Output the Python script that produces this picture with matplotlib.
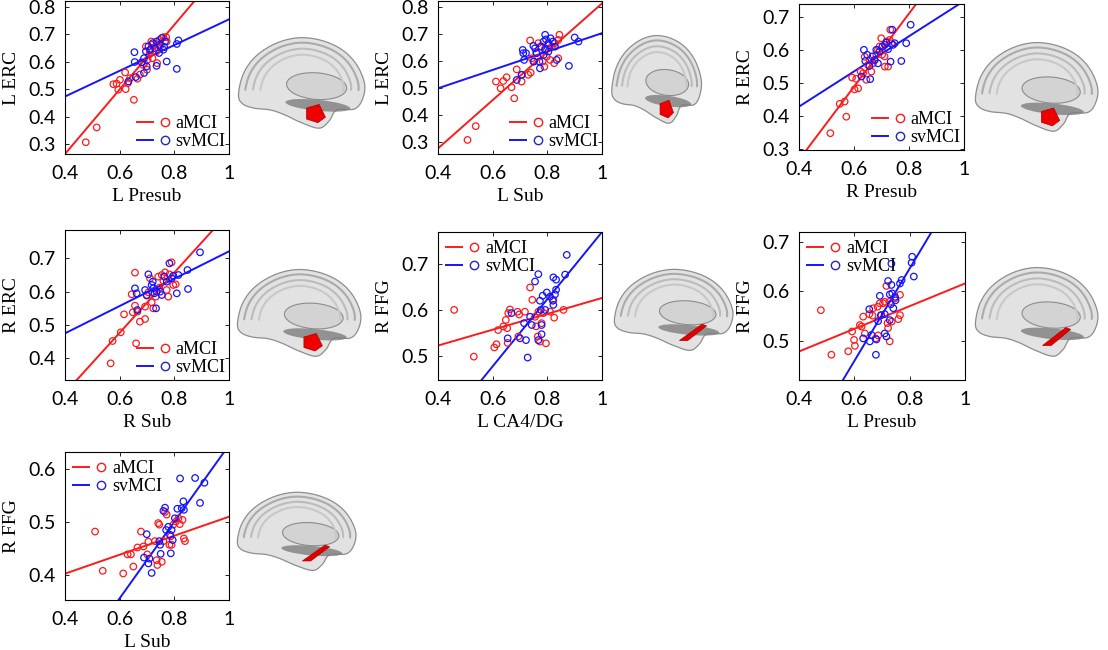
import numpy as np
import matplotlib
matplotlib.use("Agg")
import matplotlib.pyplot as plt
from matplotlib.lines import Line2D
from matplotlib.patches import Polygon, Ellipse
from matplotlib.legend_handler import HandlerTuple

# ---- data (x, y pairs per group) ----
p1_red_x = [0.476, 0.516, 0.577, 0.589, 0.601, 0.595, 0.620, 0.622, 0.630, 0.638, 0.652, 0.665, 0.674, 0.685, 0.690,
            0.696, 0.700, 0.702, 0.708, 0.711, 0.716, 0.718, 0.720, 0.735, 0.738, 0.740, 0.746, 0.750, 0.760, 0.737, 0.772, 0.770]
p1_red_y = [0.306, 0.360, 0.518, 0.520, 0.534, 0.498, 0.561, 0.500, 0.522, 0.540, 0.461, 0.538, 0.553, 0.589, 0.595,
            0.656, 0.571, 0.607, 0.626, 0.641, 0.674, 0.662, 0.613, 0.638, 0.668, 0.652, 0.680, 0.660, 0.690, 0.595, 0.674, 0.690]
p1_blue_x = [0.654, 0.655, 0.659, 0.632, 0.689, 0.680, 0.696, 0.705, 0.699, 0.689, 0.711, 0.721, 0.729, 0.735, 0.745,
             0.754, 0.760, 0.766, 0.735, 0.772, 0.763, 0.809, 0.815, 0.809, 0.744]
p1_blue_y = [0.635, 0.599, 0.544, 0.528, 0.613, 0.598, 0.638, 0.656, 0.583, 0.559, 0.644, 0.668, 0.650, 0.674, 0.662,
             0.687, 0.644, 0.674, 0.585, 0.601, 0.654, 0.574, 0.678, 0.665, 0.632]

p2_red_x = [0.508, 0.538, 0.612, 0.629, 0.639, 0.651, 0.669, 0.679, 0.688, 0.706, 0.706, 0.730, 0.739, 0.737, 0.743,
            0.749, 0.759, 0.767, 0.773, 0.783, 0.789, 0.792, 0.798, 0.804, 0.810, 0.816, 0.825, 0.828, 0.840, 0.844, 0.840]
p2_red_y = [0.309, 0.360, 0.525, 0.500, 0.527, 0.541, 0.504, 0.463, 0.570, 0.550, 0.525, 0.550, 0.558, 0.677, 0.611,
            0.599, 0.632, 0.667, 0.654, 0.599, 0.580, 0.648, 0.617, 0.660, 0.605, 0.654, 0.593, 0.667, 0.611, 0.698, 0.679]
p2_blue_x = [0.688, 0.706, 0.710, 0.712, 0.715, 0.722, 0.749, 0.751, 0.755, 0.773, 0.771, 0.779, 0.786, 0.792, 0.795,
             0.804, 0.812, 0.820, 0.828, 0.761, 0.786, 0.804, 0.834, 0.879, 0.900, 0.914, 0.792]
p2_blue_y = [0.531, 0.550, 0.642, 0.630, 0.605, 0.630, 0.657, 0.599, 0.648, 0.574, 0.599, 0.654, 0.673, 0.698, 0.681,
             0.667, 0.685, 0.673, 0.654, 0.630, 0.623, 0.636, 0.605, 0.583, 0.688, 0.673, 0.642]

p3_red_x = [0.514, 0.548, 0.566, 0.572, 0.593, 0.602, 0.608, 0.615, 0.624, 0.633, 0.639, 0.645, 0.651, 0.657, 0.663,
            0.669, 0.675, 0.681, 0.687, 0.693, 0.699, 0.702, 0.712, 0.718, 0.724, 0.730, 0.732, 0.736, 0.711]
p3_red_y = [0.348, 0.437, 0.444, 0.398, 0.517, 0.481, 0.513, 0.484, 0.535, 0.530, 0.580, 0.510, 0.555, 0.570, 0.535,
            0.560, 0.570, 0.586, 0.601, 0.611, 0.636, 0.586, 0.550, 0.626, 0.550, 0.631, 0.662, 0.621, 0.581]
p3_blue_x = [0.636, 0.641, 0.648, 0.656, 0.627, 0.659, 0.667, 0.675, 0.681, 0.687, 0.693, 0.703, 0.712, 0.718, 0.724,
             0.733, 0.739, 0.748, 0.772, 0.790, 0.806, 0.742]
p3_blue_y = [0.601, 0.567, 0.586, 0.552, 0.520, 0.512, 0.581, 0.570, 0.601, 0.560, 0.596, 0.611, 0.616, 0.623, 0.603,
             0.565, 0.662, 0.621, 0.567, 0.621, 0.677, 0.616]

p4_red_x = [0.567, 0.574, 0.604, 0.616, 0.644, 0.648, 0.656, 0.660, 0.656, 0.665, 0.674, 0.693, 0.693, 0.699, 0.705,
            0.711, 0.717, 0.723, 0.732, 0.741, 0.745, 0.754, 0.760, 0.766, 0.772, 0.778, 0.782, 0.790, 0.796, 0.805]
p4_red_y = [0.385, 0.452, 0.478, 0.532, 0.592, 0.538, 0.558, 0.445, 0.657, 0.540, 0.510, 0.518, 0.555, 0.588, 0.598,
            0.640, 0.568, 0.550, 0.585, 0.645, 0.612, 0.650, 0.632, 0.658, 0.605, 0.585, 0.652, 0.688, 0.620, 0.622]
p4_blue_x = [0.656, 0.662, 0.665, 0.693, 0.705, 0.699, 0.717, 0.721, 0.723, 0.727, 0.733, 0.735, 0.748, 0.754, 0.763,
             0.772, 0.782, 0.790, 0.796, 0.809, 0.815, 0.848, 0.850, 0.894]
p4_blue_y = [0.610, 0.595, 0.545, 0.605, 0.652, 0.590, 0.620, 0.630, 0.610, 0.595, 0.550, 0.600, 0.600, 0.590, 0.645,
             0.630, 0.685, 0.640, 0.648, 0.595, 0.650, 0.665, 0.608, 0.718]

p5_red_x = [0.459, 0.531, 0.606, 0.614, 0.620, 0.639, 0.648, 0.653, 0.657, 0.663, 0.655, 0.691, 0.694, 0.697, 0.718,
            0.737, 0.745, 0.755, 0.759, 0.765, 0.767, 0.773, 0.779, 0.786, 0.795, 0.810, 0.822, 0.825, 0.859]
p5_red_y = [0.600, 0.498, 0.518, 0.525, 0.556, 0.564, 0.578, 0.560, 0.593, 0.601, 0.528, 0.596, 0.542, 0.590, 0.596,
            0.649, 0.622, 0.585, 0.564, 0.542, 0.596, 0.531, 0.571, 0.593, 0.527, 0.596, 0.622, 0.583, 0.600]
p5_blue_x = [0.669, 0.655, 0.700, 0.715, 0.722, 0.728, 0.737, 0.743, 0.755, 0.767, 0.767, 0.773, 0.776, 0.779, 0.779,
             0.783, 0.792, 0.798, 0.810, 0.820, 0.822, 0.822, 0.832, 0.832, 0.828, 0.865, 0.871]
p5_blue_y = [0.593, 0.538, 0.538, 0.571, 0.534, 0.496, 0.585, 0.567, 0.662, 0.678, 0.534, 0.620, 0.600, 0.547, 0.567,
             0.631, 0.600, 0.638, 0.629, 0.620, 0.611, 0.671, 0.666, 0.644, 0.634, 0.677, 0.720]

p6_red_x = [0.479, 0.517, 0.578, 0.592, 0.599, 0.602, 0.620, 0.626, 0.632, 0.638, 0.654, 0.666, 0.668, 0.677, 0.684,
            0.686, 0.692, 0.698, 0.704, 0.710, 0.716, 0.720, 0.722, 0.728, 0.728, 0.735, 0.747, 0.759, 0.765, 0.765]
p6_red_y = [0.562, 0.472, 0.479, 0.519, 0.502, 0.490, 0.532, 0.529, 0.549, 0.515, 0.554, 0.551, 0.566, 0.505, 0.569,
            0.511, 0.576, 0.552, 0.576, 0.579, 0.611, 0.536, 0.526, 0.579, 0.499, 0.539, 0.586, 0.544, 0.593, 0.552]
p6_blue_x = [0.632, 0.654, 0.656, 0.662, 0.680, 0.678, 0.686, 0.692, 0.696, 0.710, 0.710, 0.716, 0.722, 0.728, 0.728,
             0.732, 0.734, 0.734, 0.737, 0.741, 0.747, 0.749, 0.765, 0.771, 0.807, 0.809, 0.815]
p6_blue_y = [0.505, 0.564, 0.499, 0.512, 0.503, 0.472, 0.540, 0.591, 0.552, 0.515, 0.554, 0.509, 0.621, 0.594, 0.542,
             0.574, 0.613, 0.656, 0.596, 0.566, 0.589, 0.582, 0.616, 0.623, 0.658, 0.670, 0.630]

p7_red_x = [0.510, 0.538, 0.613, 0.629, 0.641, 0.650, 0.665, 0.678, 0.687, 0.701, 0.705, 0.729, 0.735, 0.738, 0.741,
            0.745, 0.754, 0.760, 0.766, 0.772, 0.782, 0.787, 0.790, 0.796, 0.806, 0.815, 0.820, 0.830, 0.835, 0.839]
p7_red_y = [0.482, 0.408, 0.403, 0.439, 0.439, 0.416, 0.452, 0.482, 0.454, 0.439, 0.463, 0.464, 0.428, 0.419, 0.498,
            0.495, 0.425, 0.464, 0.519, 0.514, 0.457, 0.473, 0.457, 0.495, 0.501, 0.507, 0.496, 0.504, 0.469, 0.464]
p7_blue_x = [0.689, 0.699, 0.705, 0.709, 0.717, 0.745, 0.748, 0.750, 0.760, 0.766, 0.770, 0.778, 0.784, 0.787, 0.790,
             0.794, 0.802, 0.811, 0.821, 0.827, 0.833, 0.835, 0.876, 0.894, 0.910]
p7_blue_y = [0.433, 0.477, 0.422, 0.431, 0.404, 0.464, 0.457, 0.440, 0.521, 0.527, 0.485, 0.491, 0.476, 0.441, 0.485,
             0.466, 0.507, 0.525, 0.582, 0.526, 0.539, 0.523, 0.583, 0.536, 0.574]

# fitted lines (slope, intercept) as drawn in the reference
red_fits = [(1.18, -0.209), (0.894, -0.080), (1.11, -0.177), (0.903, -0.065), (0.173, 0.453), (0.229, 0.387), (0.179, 0.331)]
blue_fits = [(0.47, 0.285), (0.34, 0.364), (0.534, 0.215), (0.41, 0.311), (0.733, 0.037), (0.934, -0.101), (0.722, -0.077)]

xlabels = ["L Presub", "L Sub", "R Presub", "R Sub", "L CA4/DG", "L Presub", "L Sub"]
ylabels = ["L ERC", "L ERC", "R ERC", "R ERC", "R FFG", "R FFG", "R FFG"]
ylims = [(0.263, 0.822), (0.257, 0.823), (0.297, 0.74), (0.335, 0.785), (0.447, 0.77), (0.421, 0.72), (0.353, 0.632)]
yticks = [[0.3, 0.4, 0.5, 0.6, 0.7, 0.8], [0.3, 0.4, 0.5, 0.6, 0.7, 0.8], [0.3, 0.4, 0.5, 0.6, 0.7],
          [0.4, 0.5, 0.6, 0.7], [0.5, 0.6, 0.7], [0.5, 0.6, 0.7], [0.4, 0.5, 0.6]]
legend_locs = ["lower right"] * 4 + ["upper left"] * 3
regions = ["erc"] * 4 + ["ffg"] * 3

reds = [(p1_red_x, p1_red_y), (p2_red_x, p2_red_y), (p3_red_x, p3_red_y), (p4_red_x, p4_red_y),
        (p5_red_x, p5_red_y), (p6_red_x, p6_red_y), (p7_red_x, p7_red_y)]
blues = [(p1_blue_x, p1_blue_y), (p2_blue_x, p2_blue_y), (p3_blue_x, p3_blue_y), (p4_blue_x, p4_blue_y),
         (p5_blue_x, p5_blue_y), (p6_blue_x, p6_blue_y), (p7_blue_x, p7_blue_y)]

W, H = 1108, 650
RED = "#ff1a1a"
BLUE = "#1414ff"

# axes boxes in pixels (x0, x1, ytop, ybottom)
boxes = [(65, 229, 1, 154), (438, 602, 1, 154), (799, 964, 4, 150),
         (65, 229, 230, 380), (438, 602, 232, 380), (799, 965, 232, 380),
         (65, 229, 452, 600)]
brain_boxes = [(236, 367, 35, 130), (610, 703, 33, 125), (973, 1100, 40, 133),
               (235, 363, 267, 358), (612, 735, 267, 352), (973, 1100, 265, 358),
               (235, 358, 490, 572)]


def fig_rect(b):
    x0, x1, yt, yb = b
    return [x0 / W, 1 - yb / H, (x1 - x0) / W, (yb - yt) / H]


def smooth_closed(pts, n=12):
    # catmull-rom through outline vertices, just for the brain sketch
    pts = np.asarray(pts, float)
    out = []
    k = len(pts)
    for i in range(k):
        p0, p1, p2, p3 = pts[i - 1], pts[i], pts[(i + 1) % k], pts[(i + 2) % k]
        for t in np.linspace(0, 1, n, endpoint=False):
            t2, t3 = t * t, t * t * t
            out.append(0.5 * ((2 * p1) + (-p0 + p2) * t + (2 * p0 - 5 * p1 + 4 * p2 - p3) * t2
                              + (-p0 + 3 * p1 - 3 * p2 + p3) * t3))
    return np.array(out)


brain_outline = [(0.0, 0.37), (0.04, 0.6), (0.14, 0.79), (0.30, 0.93), (0.48, 0.99), (0.66, 0.96),
                 (0.82, 0.86), (0.935, 0.7), (1.0, 0.49), (0.985, 0.32), (0.92, 0.21), (0.78, 0.2),
                 (0.72, 0.08), (0.64, 0.0), (0.5, 0.06), (0.36, 0.15), (0.25, 0.2), (0.12, 0.22), (0.03, 0.27)]


def draw_brain(ax, region):
    ax.set_xlim(-0.02, 1.02)
    ax.set_ylim(-0.02, 1.02)
    ax.axis("off")
    outline = smooth_closed(brain_outline)
    ax.add_patch(Polygon(outline, closed=True, fc="#e2e2e2", ec="#8e8e8e", lw=0.9))
    c = outline.mean(axis=0)
    for s, col in [(0.9, "#ababab"), (0.78, "#bcbcbc"), (0.66, "#c8c8c8")]:
        ring = c + (outline - c) * s
        keep = ring[:, 1] > c[1] - 0.03
        ax.plot(ring[keep, 0], ring[keep, 1], color=col, lw=1.5, solid_capstyle="round")
    ax.add_patch(Ellipse((0.63, 0.25), 0.52, 0.12, angle=-8, fc="#7e7e7e", ec="none", alpha=0.8))
    ax.add_patch(Ellipse((0.62, 0.46), 0.48, 0.29, angle=-8, fc="#d3d3d3", ec="#8c8c8c", lw=0.8))
    if region == "erc":
        ax.add_patch(Polygon([(0.54, 0.22), (0.64, 0.26), (0.69, 0.12), (0.63, 0.06), (0.54, 0.1)],
                             closed=True, fc="#ee0000", ec="#b00000", lw=0.5))
    else:
        ax.add_patch(Polygon([(0.55, 0.12), (0.62, 0.12), (0.78, 0.3), (0.74, 0.32)],
                             closed=True, fc="#e00000", ec="#b00000", lw=0.5))


fig = plt.figure(figsize=(W / 100, H / 100), dpi=100)
tick_font = {"family": "Lato", "size": 14}

for i in range(7):
    ax = fig.add_axes(fig_rect(boxes[i]))
    rx, ry = reds[i]
    bx, by = blues[i]
    ax.scatter(rx, ry, s=22, facecolors="none", edgecolors=RED, linewidths=0.9, zorder=3)
    ax.scatter(bx, by, s=22, facecolors="none", edgecolors=BLUE, linewidths=0.9, zorder=3)
    xs = np.array([0.4, 1.0])
    ax.plot(xs, red_fits[i][0] * xs + red_fits[i][1], color=RED, lw=1.4, zorder=2)
    ax.plot(xs, blue_fits[i][0] * xs + blue_fits[i][1], color=BLUE, lw=1.4, zorder=2)
    ax.set_xlim(0.4, 1.0)
    ax.set_ylim(*ylims[i])
    ax.set_xticks([0.4, 0.6, 0.8, 1.0])
    ax.set_xticklabels(["0.4", "0.6", "0.8", "1"], fontdict=tick_font)
    ax.set_yticks(yticks[i])
    ax.set_yticklabels([("%.1f" % v) for v in yticks[i]], fontdict=tick_font)
    ax.tick_params(direction="in", length=3, width=0.6, top=True, right=True)
    ax.tick_params(axis="x", pad=8)
    ax.tick_params(axis="y", pad=7)
    for sp in ax.spines.values():
        sp.set_linewidth(0.8)
    ax.set_xlabel(xlabels[i], family="Liberation Serif", fontsize=14, labelpad=4)
    ax.set_ylabel(ylabels[i], family="Liberation Serif", fontsize=14, labelpad=6)

    hr = (Line2D([], [], color=RED, lw=1.4), Line2D([], [], color=RED, marker="o", ls="none", mfc="none", ms=6, mew=1))
    hb = (Line2D([], [], color=BLUE, lw=1.4), Line2D([], [], color="#2424c0", marker="o", ls="none", mfc="none", ms=6, mew=1))
    is_low = legend_locs[i] == "lower right"
    ax.legend([hr, hb], ["aMCI", "svMCI"], loc=legend_locs[i], frameon=False,
              handler_map={tuple: HandlerTuple(ndivide=None, pad=0.2)},
              handlelength=2.0, handletextpad=0.15, labelspacing=0.05,
              borderaxespad=0.05 if is_low else 0.15, borderpad=0.15 if is_low else 0.3,
              prop={"family": "Liberation Serif", "size": 13})

    bax = fig.add_axes(fig_rect(brain_boxes[i]))
    draw_brain(bax, regions[i])

fig.savefig("out.png", dpi=100)
